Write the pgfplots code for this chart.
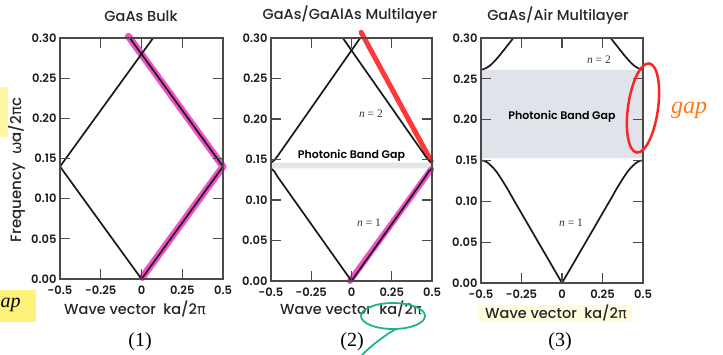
\documentclass[border=0pt]{standalone}
\usepackage{fontspec}
\setmainfont{Poppins}
\newfontfamily\pmed{Poppins Medium}
\newfontfamily\psemi{Poppins SemiBold}
\newfontfamily\grk{DejaVu Sans}
\newfontfamily\serif{Liberation Serif}
\usepackage{pgfplots}
\pgfplotsset{compat=1.18}
\definecolor{axgray}{HTML}{4A4A4A}
\definecolor{pinkhl}{HTML}{F24FC8}
\definecolor{redhl}{HTML}{FF2424}
\definecolor{gapfill}{HTML}{E0E3E9}
\definecolor{stripfill}{HTML}{E4E6E9}
\definecolor{tealhl}{HTML}{1DB38E}
\definecolor{orangehl}{HTML}{FF7A1A}
\definecolor{yellowhl}{HTML}{FFF27A}
\pgfplotsset{panel/.style={
  scale only axis, anchor=south west, clip=false, axis on top,
  xmin=-0.5, xmax=0.5, ymin=0, ymax=0.30,
  xtick={-0.5,-0.25,0,0.25,0.5}, xticklabels={-0.5,-0.25,0,0.25,0.5},
  ytick={0,0.05,0.1,0.15,0.2,0.25,0.3},
  yticklabels={0.00,0.05,0.10,0.15,0.20,0.25,0.30},
  tick align=inside, major tick length=10pt,
  axis line style={axgray, line width=1.4pt},
  every tick/.style={axgray, line width=1.3pt},
  tick label style={font=\psemi\fontsize{11.5}{13}\selectfont, text=black!90},
  xticklabel style={yshift=-3pt},
  /pgf/number format/assume math mode=true,
  every axis plot/.append style={line join=round, line cap=round},
  band/.style={black!90, line width=1.7pt}
}}
\begin{document}
\begin{tikzpicture}[x=1pt,y=1pt]
\useasboundingbox (0,0) rectangle (723,-355);
% ---------- Panel 1 ----------
\begin{axis}[panel, at={(60pt,-279pt)}, width=163pt, height=241pt]
\addplot[pinkhl, line width=7pt] coordinates {(0.005,0.002) (0.5,0.14) (-0.08,0.302)};
\addplot[band] coordinates {(-0.5,0.14) (0,0) (0.5,0.14)};
\addplot[band] coordinates {(-0.5,0.14) (0.0714,0.30)};
\addplot[band] coordinates {(0.5,0.14) (-0.0714,0.30)};
\end{axis}
% ---------- Panel 2 ----------
\begin{axis}[panel, at={(271pt,-281pt)}, width=161pt, height=243pt]
\addplot[fill=stripfill, draw=none] coordinates {(-0.5,0.139) (0.5,0.139) (0.5,0.146) (-0.5,0.146) (-0.5,0.139)};
\addplot[pinkhl, line width=6pt] coordinates {(-0.01,0.0) (0.495,0.138)};
\addplot[redhl, line width=5pt, opacity=0.9] coordinates {(0.495,0.148) (0.06,0.307)};
\addplot[band] coordinates {(-0.5,0.139) (-0.48,0.1355) (-0.46,0.129) (0,0) (0.46,0.129) (0.48,0.1355) (0.5,0.139)};
\addplot[band] coordinates {(-0.5,0.146) (-0.48,0.149) (-0.46,0.154) (0.054,0.30)};
\addplot[band] coordinates {(0.5,0.146) (0.48,0.149) (0.46,0.154) (-0.054,0.30)};
\node[font=\psemi\fontsize{11}{12}\selectfont] at (axis cs:0,0.1547) {Photonic Band Gap};
\node[font=\serif\fontsize{11.5}{12}\selectfont, text=black!80] at (axis cs:0.121,0.207) {\itshape n\upshape\ = 2};
\node[font=\serif\fontsize{11.5}{12}\selectfont, text=black!80] at (axis cs:0.109,0.072) {\itshape n\upshape\ = 1};
\end{axis}
% ---------- Panel 3 ----------
\begin{axis}[panel, at={(481pt,-283pt)}, width=162pt, height=245pt]
\addplot[fill=gapfill, draw=none] coordinates {(-0.5,0.153) (0.5,0.153) (0.5,0.261) (-0.5,0.261) (-0.5,0.153)};
\addplot[band, smooth] coordinates {(0,0) (-0.29,0.099) (-0.33,0.113) (-0.37,0.126) (-0.40,0.135) (-0.42,0.140) (-0.44,0.144) (-0.46,0.1475) (-0.48,0.1495) (-0.5,0.150)};
\addplot[band, smooth] coordinates {(0,0) (0.29,0.099) (0.33,0.113) (0.37,0.126) (0.40,0.135) (0.42,0.140) (0.44,0.144) (0.46,0.1475) (0.48,0.1495) (0.5,0.150)};
\addplot[band, smooth] coordinates {(-0.5,0.261) (-0.47,0.263) (-0.44,0.267) (-0.41,0.273) (-0.38,0.280) (-0.35,0.2875) (-0.32,0.295) (-0.30,0.300)};
\addplot[band, smooth] coordinates {(0.5,0.261) (0.47,0.263) (0.44,0.267) (0.41,0.273) (0.38,0.280) (0.35,0.2875) (0.32,0.295) (0.30,0.300)};
\node[font=\psemi\fontsize{11}{12}\selectfont] at (axis cs:0,0.204) {Photonic Band Gap};
\node[font=\serif\fontsize{11.5}{12}\selectfont, text=black!80] at (axis cs:0.228,0.274) {\itshape n\upshape\ = 2};
\node[font=\serif\fontsize{11.5}{12}\selectfont, text=black!80] at (axis cs:0.056,0.074) {\itshape n\upshape\ = 1};
\end{axis}
% ---------- Titles ----------
\node[font=\pmed\fontsize{14.5}{16}\selectfont, text=black!85] at (141pt,-16pt) {GaAs Bulk};
\node[font=\pmed\fontsize{14.5}{16}\selectfont, text=black!85] at (350pt,-15pt) {GaAs/GaAlAs Multilayer};
\node[font=\pmed\fontsize{14.5}{16}\selectfont, text=black!85] at (558pt,-16pt) {GaAs/Air Multilayer};
% ---------- Axis labels ----------
\fill[yellowhl!25] (478,-305) rectangle (632,-322);
\node[font=\pmed\fontsize{14.5}{16}\selectfont, text=black!85] at (135pt,-309pt) {Wave vector\ \ ka/2{\grk π}};
\node[font=\pmed\fontsize{14.5}{16}\selectfont, text=black!85] at (351pt,-309pt) {Wave vector\ \ ka/2{\grk π}};
\node[font=\pmed\fontsize{14.5}{16}\selectfont, text=black!85] at (556pt,-313pt) {Wave vector\ \ ka/2{\grk π}};
\node[rotate=90, font=\pmed\fontsize{15}{17}\selectfont, text=black!85] at (16pt,-170pt) {Frequency\ \ {\grk ω}a/2{\grk π}c};
\node[font=\serif\fontsize{20}{22}\selectfont] at (140pt,-342pt) {(1)};
\node[font=\serif\fontsize{20}{22}\selectfont] at (352pt,-342pt) {(2)};
\node[font=\serif\fontsize{20}{22}\selectfont] at (560pt,-342pt) {(3)};
% ---------- Annotations ----------
\fill[yellowhl!70] (0,-87) rectangle (8,-137);
\fill[yellowhl] (0,-290) rectangle (36,-322);
\node[anchor=west, font=\serif\itshape\fontsize{20}{22}\selectfont] at (-3pt,-305pt) {ap};
\draw[redhl, line width=2.5pt, rotate around={-8:(643,-108)}] (643,-108) ellipse [x radius=15, y radius=45];
\node[font=\serif\itshape\fontsize{24}{26}\selectfont, text=orangehl] at (689pt,-110pt) {gap};
\draw[tealhl, line width=1.8pt] (393,-316) ellipse [x radius=32, y radius=13];
\draw[tealhl, line width=1.8pt] (396,-329) .. controls (385,-335) and (372,-345) .. (362,-355);
\end{tikzpicture}
\end{document}
